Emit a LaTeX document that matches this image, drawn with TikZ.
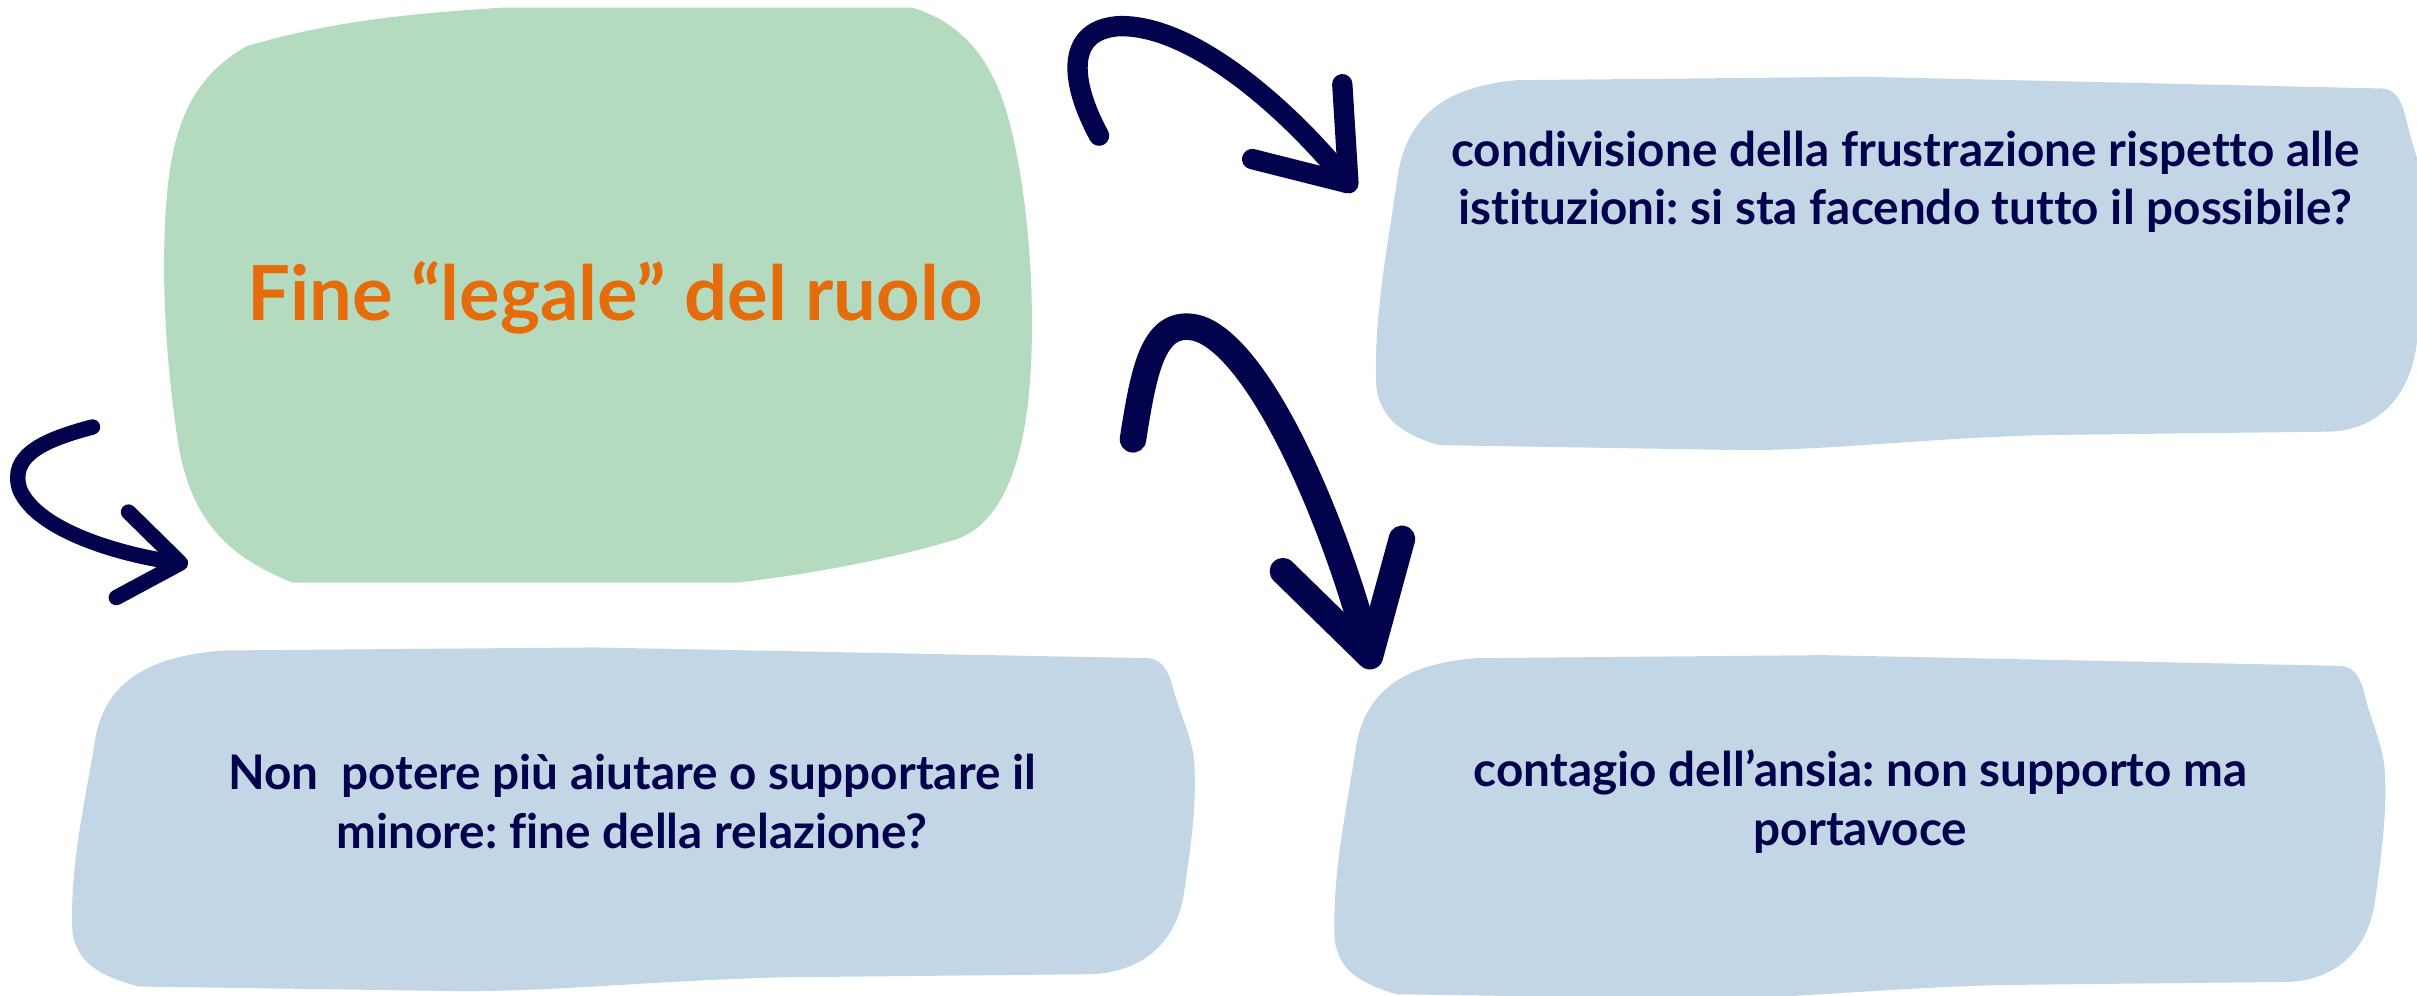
\documentclass[tikz,border=0pt]{standalone}
\usepackage{fontspec}
\setmainfont{Lato}[Ligatures=CommonOff]
\usetikzlibrary{arrows.meta,calc}
\frenchspacing

\definecolor{mint}{RGB}{180,219,191}
\definecolor{paleblue}{RGB}{195,214,229}
\definecolor{navy}{RGB}{3,3,77}
\definecolor{rust}{RGB}{228,108,10}

\tikzset{
  lab/.style={navy, align=center, font=\fontsize{22}{27}\selectfont\bfseries},
  brush/.style={navy, line width=#1, line cap=round}
}

% hand drawn blue card: shift x, shift y, xscale, yscale
\newcommand{\cloudbox}[4]{%
  \begin{scope}[shift={(#1,#2)}, xscale=#3, yscale=#4]
    \fill[paleblue] (100,0) -- (340,-2) -- (700,5) .. controls (710,6) and (714,15) .. (717,28)
      .. controls (722,45) and (730,60) .. (730,78) .. controls (731,105) and (727,130) .. (723,158)
      .. controls (718,190) and (695,210) .. (660,210) -- (465,212)
      .. controls (380,214) and (320,221) .. (255,221) -- (45,218)
      .. controls (15,210) and (5,200) .. (2,183) .. controls (0,140) and (10,100) .. (17,56)
      .. controls (25,15) and (60,3) .. cycle;
  \end{scope}}

\begin{document}
\begin{tikzpicture}[x=0.025cm, y=-0.025cm]
    \useasboundingbox (0,0) rectangle (1568,646);

    % green blob
    \fill[mint] (160,30) .. controls (220,12) and (280,8) .. (325,5) -- (592,5)
      .. controls (625,15) and (645,40) .. (655,80) .. controls (668,130) and (672,200) .. (668,250)
      .. controls (664,300) and (650,340) .. (620,350) .. controls (580,362) and (530,372) .. (478,378)
      -- (190,378) .. controls (150,362) and (125,340) .. (116,290)
      .. controls (108,240) and (104,180) .. (108,130) .. controls (112,80) and (125,50) .. (160,30);

    \cloudbox{891}{52}{0.936}{1.086}
    \cloudbox{45}{422}{1}{1}
    \cloudbox{864}{427}{0.936}{1}

    \node[rust, anchor=base, font=\fontsize{35}{40}\selectfont\bfseries] (title) at (399,208) {Fine “legale” del ruolo};

    \node[lab] (tr) at (1236,118) {condivisione della frustrazione rispetto alle\\istituzioni: si sta facendo tutto il possibile?};
    \node[lab] (bl) at (410,520) {Non\ \ potere più aiutare o supportare il\\minore: fine della relazione?};
    \node[lab] (br) at (1207,520) {contagio dell’ansia: non supporto ma\\portavoce};

    \coordinate (A1) at (713,88);
    \coordinate (B1) at (879,124);
    \coordinate (A2) at (735,285);
    \coordinate (B2) at (891,434);
    \coordinate (A3) at (60,277);
    \coordinate (B3) at (122,366);

    \draw[brush=0.33cm, -{Straight Barb[length=1.3cm, width=1.9cm, round]}]
      (A1) .. controls (695,55) and (690,20) .. (725,17) .. controls (770,15) and (830,65) .. (B1);
    \draw[brush=0.43cm, -{Straight Barb[length=1.7cm, width=2cm, round]}]
      (A2) .. controls (742,240) and (748,210) .. (772,212) .. controls (810,215) and (860,320) .. (B2);
    \draw[brush=0.25cm, -{Straight Barb[length=0.95cm, width=1.4cm, round]}]
      (A3) .. controls (30,285) and (5,295) .. (13,318) .. controls (25,345) and (80,360) .. (B3);
\end{tikzpicture}
\end{document}
